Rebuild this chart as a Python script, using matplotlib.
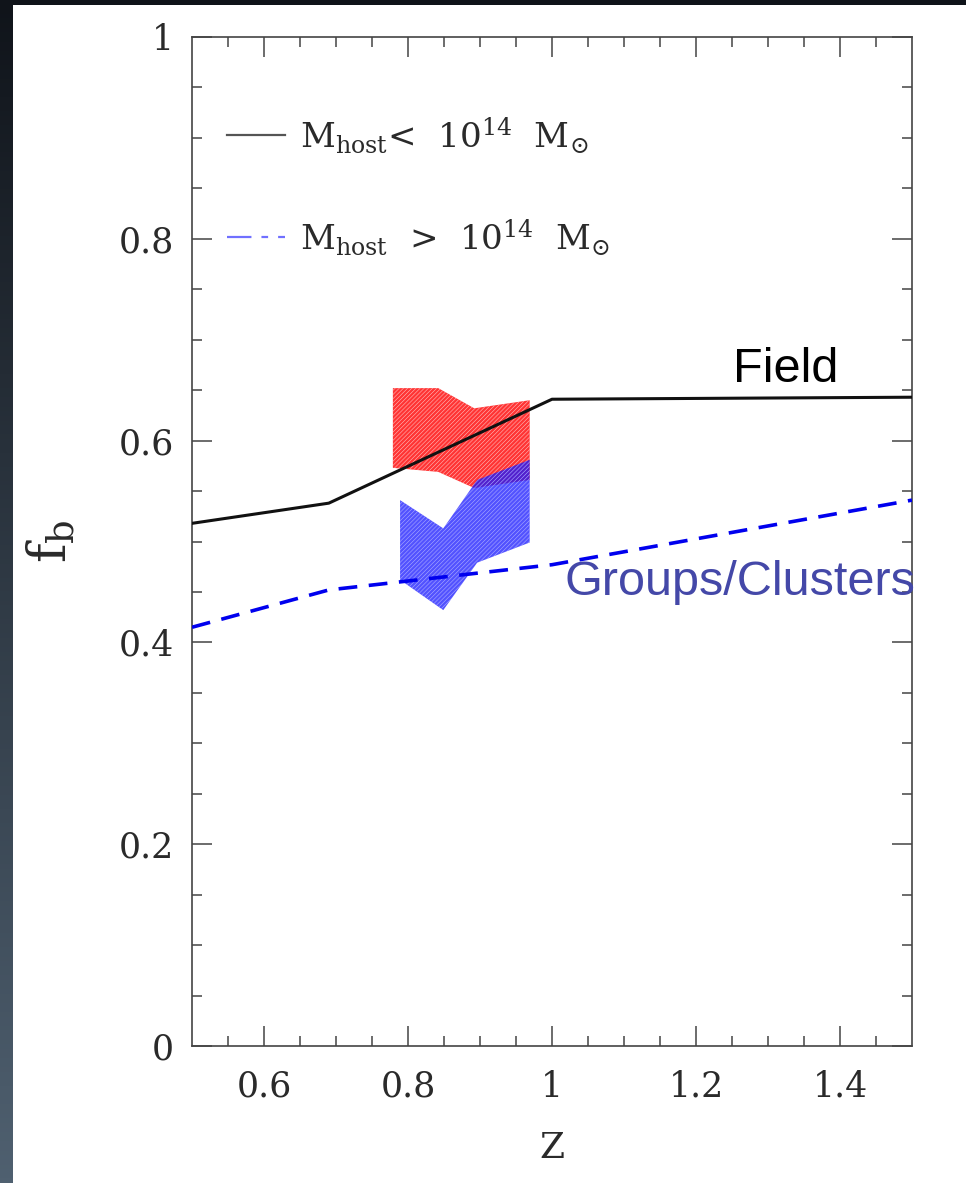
import numpy as np
import matplotlib
matplotlib.use("Agg")
import matplotlib.pyplot as plt
from matplotlib.lines import Line2D

plt.rcParams['font.family'] = ['DejaVu Serif']
plt.rcParams['mathtext.fontset'] = 'dejavuserif'
plt.rcParams['hatch.linewidth'] = 0.35

# black solid curve: M_host < 1e14
z_field = [0.5, 0.69, 1.0, 1.5]
fb_field = [0.518, 0.538, 0.641, 0.643]

# blue dashed curve: M_host > 1e14
z_group = [0.5, 0.69, 1.0, 1.5]
fb_group = [0.415, 0.452, 0.477, 0.541]

# red observed band (field)
z_red = [0.779, 0.842, 0.892, 0.969]
red_lo = [0.573, 0.569, 0.553, 0.561]
red_hi = [0.652, 0.652, 0.632, 0.640]

# blue observed band (groups/clusters)
z_blue = [0.789, 0.849, 0.896, 0.969]
blue_lo = [0.462, 0.432, 0.479, 0.499]
blue_hi = [0.541, 0.513, 0.561, 0.581]

W, H = 966, 1183
fig = plt.figure(figsize=(W / 100, H / 100), dpi=100)
fig.patch.set_facecolor('#0f1319')

# dark gradient strip on the left edge
grad = fig.add_axes([0, 0, 13 / W, 1])
grad.imshow(np.linspace(0, 1, 256).reshape(-1, 1), aspect='auto',
            cmap=matplotlib.colors.LinearSegmentedColormap.from_list(
                'bg', ['#10141a', '#4f6070']))
grad.axis('off')

# white page
page = fig.add_axes([13 / W, 0, 1 - 13 / W, 1 - 5 / H])
page.set_facecolor('white')
page.set_xticks([])
page.set_yticks([])
for s in page.spines.values():
    s.set_visible(False)

ax = fig.add_axes([192 / W, 1 - 1046 / H, 720 / W, 1009 / H])
ax.set_facecolor('none')

# bands
ax.fill_between(z_red, red_lo, red_hi, facecolor='#ff3434', edgecolor='#ffd0d0',
                hatch='////////', linewidth=0, zorder=1)
ax.fill_between(z_blue, blue_lo, blue_hi, facecolor='#1c1cff', edgecolor='#d8d8ff',
                hatch='////////', linewidth=0, alpha=0.76, zorder=2)

# model curves
ax.plot(z_field, fb_field, color='#111111', lw=2.2, zorder=3)
ax.plot(z_group, fb_group, color='#0000ee', lw=2.6, dashes=(5.2, 3.2), zorder=3)

ax.set_xlim(0.5, 1.5)
ax.set_ylim(0, 1)

ax.set_xticks(np.arange(0.6, 1.41, 0.2))
ax.set_xticklabels(['0.6', '0.8', '1', '1.2', '1.4'])
ax.set_xticks(np.arange(0.55, 1.5, 0.05), minor=True)
ax.set_yticks(np.arange(0, 1.01, 0.2))
ax.set_yticklabels(['0', '0.2', '0.4', '0.6', '0.8', '1'])
ax.set_yticks(np.arange(0.05, 1.0, 0.05), minor=True)

edge = '#444444'
for s in ax.spines.values():
    s.set_color(edge)
    s.set_linewidth(1.2)
ax.tick_params(which='both', direction='in', top=True, right=True,
               color=edge, width=1.1, labelsize=25, labelcolor='#2a2a2a')
ax.tick_params(which='major', length=14.5)
ax.tick_params(which='minor', length=7.5)
ax.tick_params(axis='x', pad=17)
ax.tick_params(axis='y', pad=13)

ax.set_xlabel('Z', fontsize=26, color='#2a2a2a', labelpad=20)
ax.set_ylabel(r'$\mathrm{f}_\mathrm{b}$', fontsize=38, color='#2a2a2a', labelpad=30)

# legend keys
ax.add_line(Line2D([0.549, 0.629], [0.903, 0.903], color='#555555', lw=1.6))
ax.add_line(Line2D([0.549, 0.629], [0.802, 0.802], color='#7070ff', lw=1.6,
                   dashes=(11, 4.5, 3, 4.5)))
ax.text(0.65, 0.890, r'M$_{\rm host}$<  10$^{14}$  M$_{\odot}$', fontsize=24.5,
        color='#2a2a2a', va='baseline')
ax.text(0.65, 0.789, r'M$_{\rm host}$  >  10$^{14}$  M$_{\odot}$', fontsize=24.5,
        color='#2a2a2a', va='baseline')

ax.text(1.251, 0.658, 'Field', fontsize=35, family='Liberation Sans',
        color='black', va='baseline')
ax.text(1.018, 0.447, 'Groups/Clusters', fontsize=35, family='Liberation Sans',
        color='#4448a8', va='baseline', clip_on=False, zorder=5)

fig.savefig('out.png', dpi=100, facecolor=fig.get_facecolor())
